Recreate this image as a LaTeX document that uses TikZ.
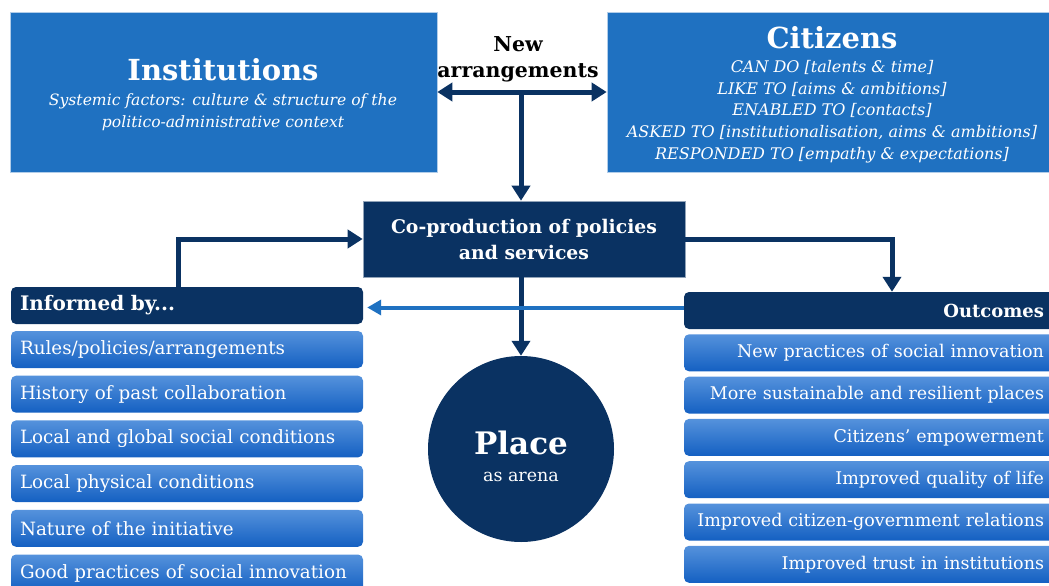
\documentclass[tikz,border=0pt]{standalone}
\usepackage{fontspec}
\setmainfont{DejaVu Serif}
\usetikzlibrary{arrows.meta}

\definecolor{navy}{HTML}{0A3262}
\definecolor{midblue}{HTML}{1F71C1}
\definecolor{itemtop}{HTML}{5592DC}
\definecolor{itembot}{HTML}{1460C2}

\begin{document}
\begin{tikzpicture}[x=1pt,y=-1pt]
	\tikzstyle{blue_box} = [rectangle, fill=midblue, draw=white!65!midblue, line width=0.6pt, inner sep=0pt]
	\tikzstyle{box_text} = [text=white, align=center, inner sep=0pt]
	\tikzstyle{navy_box} = [rectangle, fill=navy, draw=white!55!navy, line width=0.6pt, text=white, align=center, font=\bfseries\fontsize{18.8}{26}\selectfont]
	\tikzstyle{head_left} = [rectangle, rounded corners=5pt, fill=navy, text=white, minimum height=37pt, text width=334pt, inner xsep=9pt, align=left, font=\bfseries\fontsize{20}{22}\selectfont]
	\tikzstyle{item_left} = [head_left, fill=none, top color=itemtop, bottom color=itembot, font=\fontsize{18.3}{21}\selectfont]
	\tikzstyle{head_right} = [rectangle, rounded corners=5pt, fill=navy, text=white, minimum height=37pt, text width=348pt, inner xsep=12pt, align=right, font=\bfseries\fontsize{18}{21}\selectfont]
	\tikzstyle{item_right} = [head_right, fill=none, top color=itemtop, bottom color=itembot, font=\fontsize{17.5}{21}\selectfont]
	\tikzstyle{dark_arrow} = [draw=navy, line width=5pt, -{Triangle[length=15pt,width=18pt]}]
	\tikzstyle{light_arrow} = [draw=midblue, line width=4pt, -{Triangle[length=14pt,width=15pt]}]

	\useasboundingbox (0,0) rectangle (1049,586);

%------------------------------------------------------------
	\node[blue_box, minimum width=427pt, minimum height=160pt] (inst) at (223.5,92) {};
	\node[box_text, font=\bfseries\fontsize{29}{34}\selectfont] (inst_title) at (223,70) {Institutions};
	\node[box_text, font=\itshape\fontsize{15.6}{22}\selectfont] (inst_sub) at (223,112)
		{Systemic factors: culture \& structure of the\\politico-administrative context};

	\node[blue_box, minimum width=444pt, minimum height=160pt] (citz) at (829,92) {};
	\node[box_text, font=\bfseries\fontsize{29}{34}\selectfont] (citz_title) at (832,38) {Citizens};
	\node[box_text, font=\itshape\fontsize{16}{21.7}\selectfont] (citz_sub) at (832,111.5)
		{CAN DO [talents \& time]\\
		 LIKE TO [aims \& ambitions]\\
		 ENABLED TO [contacts]\\
		 ASKED TO [institutionalisation, aims \& ambitions]\\
		 RESPONDED TO [empathy \& expectations]};

	\node[align=center, inner sep=0pt, font=\bfseries\fontsize{20.5}{26}\selectfont] (newarr) at (518,59) {New\\arrangements};

%------------------------------------------------------------
	\node[navy_box, minimum width=322pt, minimum height=76pt] (coprod) at (524,239)
		{Co-production of policies\\and services};

	\node[circle, fill=navy, minimum size=186pt] (place) at (521,449) {};
	\node[box_text, font=\bfseries\fontsize{31}{36}\selectfont] (place_title) at (521,443) {Place};
	\node[box_text, font=\fontsize{17.5}{20}\selectfont] (place_sub) at (521,477) {as arena};

%------------------------------------------------------------

	\node[head_left] (inf0) at (187,305.5) {Informed by...};
	\node[item_left] (inf1) at (187,349.5) {Rules/policies/arrangements};
	\node[item_left] (inf2) at (187,394.2) {History of past collaboration};
	\node[item_left] (inf3) at (187,438.9) {Local and global social conditions};
	\node[item_left] (inf4) at (187,483.6) {Local physical conditions};
	\node[item_left] (inf5) at (187,528.3) {Nature of the initiative};
	\node[item_left] (inf6) at (187,573.0) {Good practices of social innovation};

%------------------------------------------------------------

	\node[head_right] (out0) at (870,310.5) {Outcomes};
	\node[item_right] (out1) at (870,352.8) {New practices of social innovation};
	\node[item_right] (out2) at (870,395.1) {More sustainable and resilient places};
	\node[item_right] (out3) at (870,437.4) {Citizens’ empowerment};
	\node[item_right] (out4) at (870,479.7) {Improved quality of life};
	\node[item_right] (out5) at (870,522.0) {Improved citizen-government relations};
	\node[item_right] (out6) at (870,564.3) {Improved trust in institutions};

%------------------------------------------------------------

	\coordinate (junc) at (521,92);
	\coordinate (blue_level) at (0,307.5);

	\draw[dark_arrow, {Triangle[length=15pt,width=18pt]}-{Triangle[length=15pt,width=18pt]}] (inst.east) -- (citz.west);
	\draw[dark_arrow] (junc) -- (coprod.north -| junc);
	\draw[dark_arrow] ([xshift=-9pt]inf0.north) |- (coprod.west);
	\draw[dark_arrow] (coprod.east) -| ([xshift=22pt]out0.north);
	\draw[dark_arrow] (coprod.south -| junc) -- (place.north);
	\draw[light_arrow, shorten >=4pt] (out0.west |- blue_level) -- (inf0.east |- blue_level);

\end{tikzpicture}
\end{document}
